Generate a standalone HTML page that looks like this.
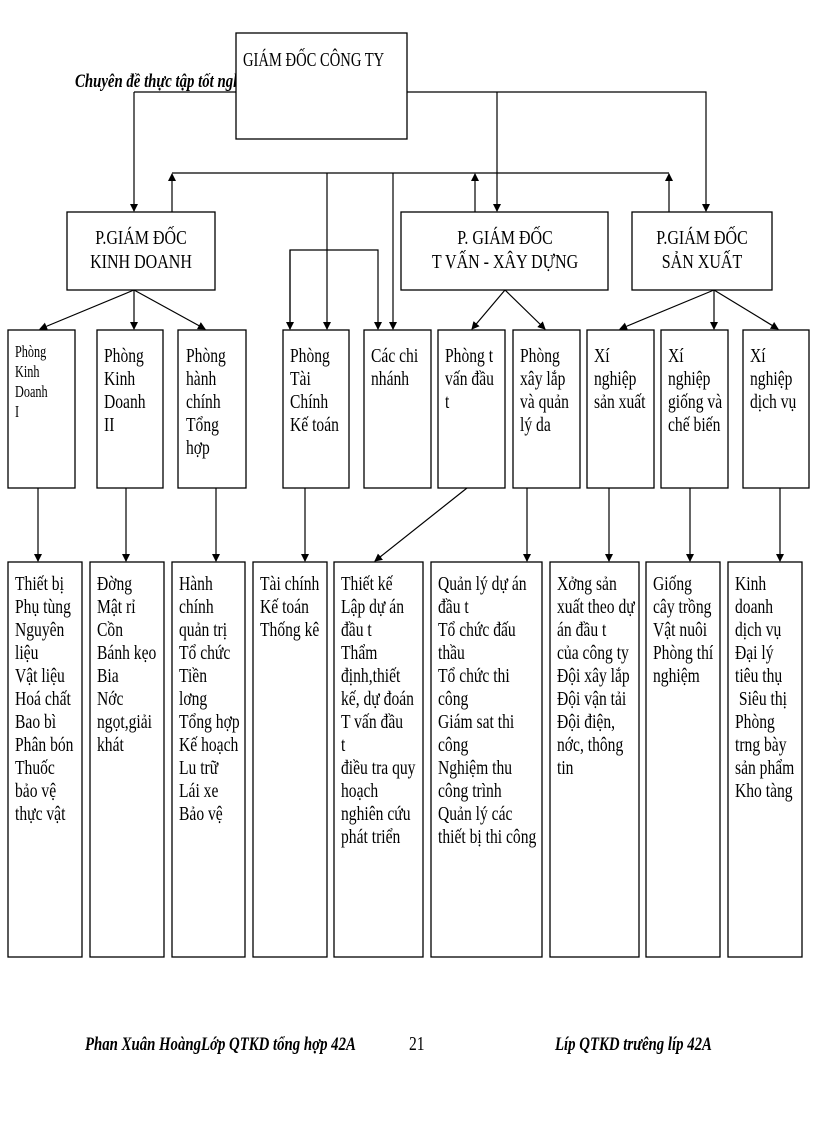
<!DOCTYPE html>
<html><head><meta charset="utf-8"><style>
html,body{margin:0;padding:0;background:#fff}
svg{display:block}
text{font-family:"Liberation Serif",serif;font-size:20px;fill:#000}
.b{fill:#fff;stroke:#000;stroke-width:1.3}
.l{stroke:#000;stroke-width:1.2;fill:none}
.it{font-weight:bold;font-style:italic;font-size:19px}
</style></head><body>
<svg width="816" height="1123" viewBox="0 0 816 1123" xmlns="http://www.w3.org/2000/svg">
<defs><marker id="a" markerWidth="8" markerHeight="8" refX="7" refY="4" orient="auto" markerUnits="userSpaceOnUse"><path d="M0,0 L8,4 L0,8 z" fill="#000"/></marker></defs>

<g transform="translate(75,0) scale(0.78,1)"><text class="it" y="87">Chuyên đề thực tập tốt nghiệp</text></g>
<line class="l" x1="134" y1="92" x2="237" y2="92"/>
<rect class="b" x="236" y="33" width="171" height="106"/>
<g transform="translate(243,0) scale(0.73,1)"><text y="66">GIÁM ĐỐC CÔNG TY</text></g>

<line class="l" x1="134" y1="92" x2="134" y2="211" marker-end="url(#a)"/>
<polyline class="l" points="407,92 706,92 706,211" marker-end="url(#a)"/>
<line class="l" x1="497" y1="92" x2="497" y2="211" marker-end="url(#a)"/>
<line class="l" x1="172" y1="173" x2="669" y2="173"/>
<line class="l" x1="172" y1="212" x2="172" y2="174" marker-end="url(#a)"/>
<line class="l" x1="475" y1="212" x2="475" y2="174" marker-end="url(#a)"/>
<line class="l" x1="669" y1="212" x2="669" y2="174" marker-end="url(#a)"/>
<line class="l" x1="327" y1="173" x2="327" y2="329" marker-end="url(#a)"/>
<line class="l" x1="393" y1="173" x2="393" y2="329" marker-end="url(#a)"/>
<polyline class="l" points="290,329 290,250 378,250 378,329" marker-end="url(#a)"/>
<line class="l" x1="290" y1="250" x2="290" y2="329" marker-end="url(#a)"/>

<rect class="b" x="67" y="212" width="148" height="78"/>
<text x="141" y="244" text-anchor="middle" transform="translate(141,0) scale(0.8,1) translate(-141,0)">P.GIÁM ĐỐC</text>
<text x="141" y="268" text-anchor="middle" transform="translate(141,0) scale(0.8,1) translate(-141,0)">KINH DOANH</text>
<rect class="b" x="401" y="212" width="207" height="78"/>
<text x="505" y="244" text-anchor="middle" transform="translate(505,0) scale(0.8,1) translate(-505,0)">P. GIÁM ĐỐC</text>
<text x="505" y="268" text-anchor="middle" transform="translate(505,0) scale(0.8,1) translate(-505,0)">T    VẤN - XÂY DỰNG</text>
<rect class="b" x="632" y="212" width="140" height="78"/>
<text x="702" y="244" text-anchor="middle" transform="translate(702,0) scale(0.8,1) translate(-702,0)">P.GIÁM ĐỐC</text>
<text x="702" y="268" text-anchor="middle" transform="translate(702,0) scale(0.8,1) translate(-702,0)">SẢN XUẤT</text>

<line class="l" x1="134" y1="290" x2="40" y2="329" marker-end="url(#a)"/>
<line class="l" x1="134" y1="290" x2="134" y2="329" marker-end="url(#a)"/>
<line class="l" x1="134" y1="290" x2="205" y2="329" marker-end="url(#a)"/>
<line class="l" x1="505" y1="290" x2="472" y2="329" marker-end="url(#a)"/>
<line class="l" x1="505" y1="290" x2="545" y2="329" marker-end="url(#a)"/>
<line class="l" x1="714" y1="290" x2="620" y2="329" marker-end="url(#a)"/>
<line class="l" x1="714" y1="290" x2="714" y2="329" marker-end="url(#a)"/>
<line class="l" x1="714" y1="290" x2="778" y2="329" marker-end="url(#a)"/>

<rect class="b" x="8" y="330" width="67" height="158"/>
<rect class="b" x="97" y="330" width="66" height="158"/>
<rect class="b" x="178" y="330" width="68" height="158"/>
<rect class="b" x="283" y="330" width="66" height="158"/>
<rect class="b" x="364" y="330" width="67" height="158"/>
<rect class="b" x="438" y="330" width="67" height="158"/>
<rect class="b" x="513" y="330" width="67" height="158"/>
<rect class="b" x="587" y="330" width="67" height="158"/>
<rect class="b" x="661" y="330" width="67" height="158"/>
<rect class="b" x="743" y="330" width="66" height="158"/>

<g transform="translate(15,0) scale(0.72,1)"><text style="font-size:17px"><tspan x="0" y="357">Phòng</tspan><tspan x="0" y="377">Kinh</tspan><tspan x="0" y="397">Doanh</tspan><tspan x="0" y="417">I</tspan></text></g>
<g transform="translate(104,0) scale(0.78,1)"><text><tspan x="0" y="362">Phòng</tspan><tspan x="0" y="385">Kinh</tspan><tspan x="0" y="408">Doanh</tspan><tspan x="0" y="431">II</tspan></text></g>
<g transform="translate(186,0) scale(0.78,1)"><text><tspan x="0" y="362">Phòng</tspan><tspan x="0" y="385">hành</tspan><tspan x="0" y="408">chính</tspan><tspan x="0" y="431">Tổng</tspan><tspan x="0" y="454">hợp</tspan></text></g>
<g transform="translate(290,0) scale(0.78,1)"><text><tspan x="0" y="362">Phòng</tspan><tspan x="0" y="385">Tài</tspan><tspan x="0" y="408">Chính</tspan><tspan x="0" y="431">Kế toán</tspan></text></g>
<g transform="translate(371,0) scale(0.78,1)"><text><tspan x="0" y="362">Các chi</tspan><tspan x="0" y="385">nhánh</tspan></text></g>
<g transform="translate(445,0) scale(0.78,1)"><text><tspan x="0" y="362">Phòng t</tspan><tspan x="0" y="385">vấn đầu</tspan><tspan x="0" y="408">t</tspan></text></g>
<g transform="translate(520,0) scale(0.78,1)"><text><tspan x="0" y="362">Phòng</tspan><tspan x="0" y="385">xây lắp</tspan><tspan x="0" y="408">và quản</tspan><tspan x="0" y="431">lý da</tspan></text></g>
<g transform="translate(594,0) scale(0.78,1)"><text><tspan x="0" y="362">Xí</tspan><tspan x="0" y="385">nghiệp</tspan><tspan x="0" y="408">sản xuất</tspan></text></g>
<g transform="translate(668,0) scale(0.78,1)"><text><tspan x="0" y="362">Xí</tspan><tspan x="0" y="385">nghiệp</tspan><tspan x="0" y="408">giống và</tspan><tspan x="0" y="431">chế biến</tspan></text></g>
<g transform="translate(750,0) scale(0.78,1)"><text><tspan x="0" y="362">Xí</tspan><tspan x="0" y="385">nghiệp</tspan><tspan x="0" y="408">dịch vụ</tspan></text></g>

<line class="l" x1="38" y1="488" x2="38" y2="561" marker-end="url(#a)"/>
<line class="l" x1="126" y1="488" x2="126" y2="561" marker-end="url(#a)"/>
<line class="l" x1="216" y1="488" x2="216" y2="561" marker-end="url(#a)"/>
<line class="l" x1="305" y1="488" x2="305" y2="561" marker-end="url(#a)"/>
<line class="l" x1="467" y1="488" x2="375" y2="561" marker-end="url(#a)"/>
<line class="l" x1="527" y1="488" x2="527" y2="561" marker-end="url(#a)"/>
<line class="l" x1="609" y1="488" x2="609" y2="561" marker-end="url(#a)"/>
<line class="l" x1="690" y1="488" x2="690" y2="561" marker-end="url(#a)"/>
<line class="l" x1="780" y1="488" x2="780" y2="561" marker-end="url(#a)"/>

<rect class="b" x="8" y="562" width="74" height="395"/>
<rect class="b" x="90" y="562" width="74" height="395"/>
<rect class="b" x="172" y="562" width="73" height="395"/>
<rect class="b" x="253" y="562" width="74" height="395"/>
<rect class="b" x="334" y="562" width="89" height="395"/>
<rect class="b" x="431" y="562" width="111" height="395"/>
<rect class="b" x="550" y="562" width="89" height="395"/>
<rect class="b" x="646" y="562" width="74" height="395"/>
<rect class="b" x="728" y="562" width="74" height="395"/>

<g transform="translate(15,0) scale(0.78,1)"><text><tspan x="0" y="590">Thiết bị</tspan><tspan x="0" y="613">Phụ tùng</tspan><tspan x="0" y="636">Nguyên</tspan><tspan x="0" y="659">liệu</tspan><tspan x="0" y="682">Vật liệu</tspan><tspan x="0" y="705">Hoá chất</tspan><tspan x="0" y="728">Bao bì</tspan><tspan x="0" y="751">Phân bón</tspan><tspan x="0" y="774">Thuốc</tspan><tspan x="0" y="797">bảo vệ</tspan><tspan x="0" y="820">thực vật</tspan></text></g>
<g transform="translate(97,0) scale(0.78,1)"><text><tspan x="0" y="590">Đờng</tspan><tspan x="0" y="613">Mật rỉ</tspan><tspan x="0" y="636">Cồn</tspan><tspan x="0" y="659">Bánh kẹo</tspan><tspan x="0" y="682">Bia</tspan><tspan x="0" y="705">Nớc</tspan><tspan x="0" y="728">ngọt,giải</tspan><tspan x="0" y="751">khát</tspan></text></g>
<g transform="translate(179,0) scale(0.78,1)"><text><tspan x="0" y="590">Hành</tspan><tspan x="0" y="613">chính</tspan><tspan x="0" y="636">quản trị</tspan><tspan x="0" y="659">Tổ chức</tspan><tspan x="0" y="682">Tiền</tspan><tspan x="0" y="705">lơng</tspan><tspan x="0" y="728">Tổng hợp</tspan><tspan x="0" y="751">Kế hoạch</tspan><tspan x="0" y="774">Lu   trữ</tspan><tspan x="0" y="797">Lái xe</tspan><tspan x="0" y="820">Bảo vệ</tspan></text></g>
<g transform="translate(260,0) scale(0.78,1)"><text><tspan x="0" y="590">Tài chính</tspan><tspan x="0" y="613">Kế toán</tspan><tspan x="0" y="636">Thống kê</tspan></text></g>
<g transform="translate(341,0) scale(0.78,1)"><text><tspan x="0" y="590">Thiết kế</tspan><tspan x="0" y="613">Lập dự án</tspan><tspan x="0" y="636">đầu t</tspan><tspan x="0" y="659">Thẩm</tspan><tspan x="0" y="682">định,thiết</tspan><tspan x="0" y="705">kế, dự đoán</tspan><tspan x="0" y="728">T    vấn đầu</tspan><tspan x="0" y="751">t</tspan><tspan x="0" y="774">điều tra quy</tspan><tspan x="0" y="797">hoạch</tspan><tspan x="0" y="820">nghiên cứu</tspan><tspan x="0" y="843">phát triển</tspan></text></g>
<g transform="translate(438,0) scale(0.78,1)"><text><tspan x="0" y="590">Quản lý dự án</tspan><tspan x="0" y="613">đầu t</tspan><tspan x="0" y="636">Tổ chức đấu</tspan><tspan x="0" y="659">thầu</tspan><tspan x="0" y="682">Tổ chức thi</tspan><tspan x="0" y="705">công</tspan><tspan x="0" y="728">Giám sat thi</tspan><tspan x="0" y="751">công</tspan><tspan x="0" y="774">Nghiệm thu</tspan><tspan x="0" y="797">công trình</tspan><tspan x="0" y="820">Quản lý các</tspan><tspan x="0" y="843">thiết bị thi công</tspan></text></g>
<g transform="translate(557,0) scale(0.78,1)"><text><tspan x="0" y="590">Xởng    sản</tspan><tspan x="0" y="613">xuất theo dự</tspan><tspan x="0" y="636">án đầu t</tspan><tspan x="0" y="659">của công ty</tspan><tspan x="0" y="682">Đội xây lắp</tspan><tspan x="0" y="705">Đội vận tải</tspan><tspan x="0" y="728">Đội điện,</tspan><tspan x="0" y="751">nớc,   thông</tspan><tspan x="0" y="774">tin</tspan></text></g>
<g transform="translate(653,0) scale(0.78,1)"><text><tspan x="0" y="590">Giống</tspan><tspan x="0" y="613">cây trồng</tspan><tspan x="0" y="636">Vật nuôi</tspan><tspan x="0" y="659">Phòng thí</tspan><tspan x="0" y="682">nghiệm</tspan></text></g>
<g transform="translate(735,0) scale(0.78,1)"><text><tspan x="0" y="590">Kinh</tspan><tspan x="0" y="613">doanh</tspan><tspan x="0" y="636">dịch vụ</tspan><tspan x="0" y="659">Đại lý</tspan><tspan x="0" y="682">tiêu thụ</tspan><tspan x="0" y="705"> Siêu thị</tspan><tspan x="0" y="728">Phòng</tspan><tspan x="0" y="751">trng   bày</tspan><tspan x="0" y="774">sản phẩm</tspan><tspan x="0" y="797">Kho tàng</tspan></text></g>

<g transform="translate(85,0) scale(0.78,1)"><text class="it" y="1050">Phan Xuân HoàngLớp QTKD tổng hợp 42A</text></g>
<g transform="translate(409,0) scale(0.78,1)"><text y="1050">21</text></g>
<g transform="translate(555,0) scale(0.78,1)"><text class="it" y="1050">Líp QTKD trưêng líp 42A</text></g>
</svg>
</body></html>
